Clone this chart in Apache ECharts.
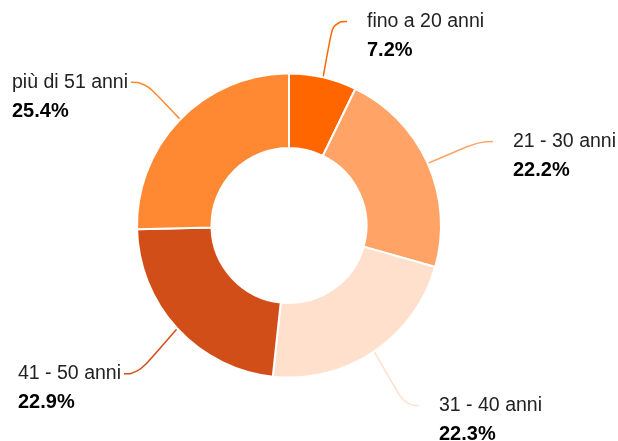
<!DOCTYPE html>
<html><head><meta charset="utf-8">
<script src="https://cdn.jsdelivr.net/npm/echarts@6/dist/echarts.min.js"></script>
<style>html,body{margin:0;padding:0;background:#fff}#c{width:618px;height:441px}</style>
</head><body><div id="c"></div>
<script>
// ---- data ----
const categories = ['fino a 20 anni', '21 - 30 anni', '31 - 40 anni', '41 - 50 anni', 'più di 51 anni'];
const percentages = [7.2, 22.2, 22.3, 22.9, 25.4];
const colors = ['#ff6600', '#ffa366', '#ffe0cc', '#d24e18', '#ff8833'];

// ---- label placement (style only) ----
const labelSide = ['right', 'right', 'right', 'left', 'left'];
const nameLabelPos = [
  { x: 347, y: 21.5 },
  { x: 493, y: 141.5 },
  { x: 419, y: 405.5 },
  { x: 18, y: 373.8 },
  { x: 12, y: 82.2 }
];
const pctLabelPos = [
  { x: 367, y: 50.5 },
  { x: 513, y: 170.5 },
  { x: 439, y: 434.5 },
  { x: 18, y: 402.8 },
  { x: 12, y: 111.2 }
];

const FONT = '"Liberation Sans", Arial, Helvetica, sans-serif';
const chart = echarts.init(document.getElementById('c'), null, { renderer: 'canvas' });

const common = {
  type: 'pie',
  center: [289, 225.5],
  radius: [77.5, 152],
  startAngle: 90,
  clockwise: true,
  avoidLabelOverlap: false,
  emphasis: { disabled: true }
};

chart.setOption({
  animation: false,
  backgroundColor: '#fff',
  series: [
    Object.assign({}, common, {
      name: 'main',
      itemStyle: { borderColor: '#fff', borderWidth: 2 },
      label: {
        show: true,
        formatter: '{b}',
        fontFamily: FONT,
        fontSize: 19.5,
        color: '#222',
        lineHeight: 27,
        backgroundColor: 'rgba(255,255,255,0)'
      },
      labelLine: { show: true, length: 10, length2: 14, smooth: 0.5, lineStyle: { width: 1.5 } },
      labelLayout: function (p) {
        const pos = nameLabelPos[p.dataIndex];
        return { x: pos.x, y: pos.y, align: 'left', verticalAlign: 'middle' };
      },
      data: categories.map(function (c, i) {
        return {
          name: c,
          value: percentages[i],
          itemStyle: { color: colors[i] },
          label: { padding: labelSide[i] === 'right' ? [4, 0, 0, 20] : [4, 3, 0, 0] }
        };
      })
    }),
    Object.assign({}, common, {
      name: 'pct',
      silent: true,
      itemStyle: { color: 'rgba(0,0,0,0)', borderWidth: 0 },
      label: {
        show: true,
        formatter: function (p) { return p.value.toFixed(1) + '%'; },
        fontFamily: FONT,
        fontSize: 20,
        fontWeight: 'bold',
        color: '#000',
        lineHeight: 27
      },
      labelLine: { show: false },
      labelLayout: function (p) {
        const pos = pctLabelPos[p.dataIndex];
        return { x: pos.x, y: pos.y, align: 'left', verticalAlign: 'middle' };
      },
      data: categories.map(function (c, i) {
        return { name: c, value: percentages[i] };
      })
    })
  ]
});
</script>
</body></html>
